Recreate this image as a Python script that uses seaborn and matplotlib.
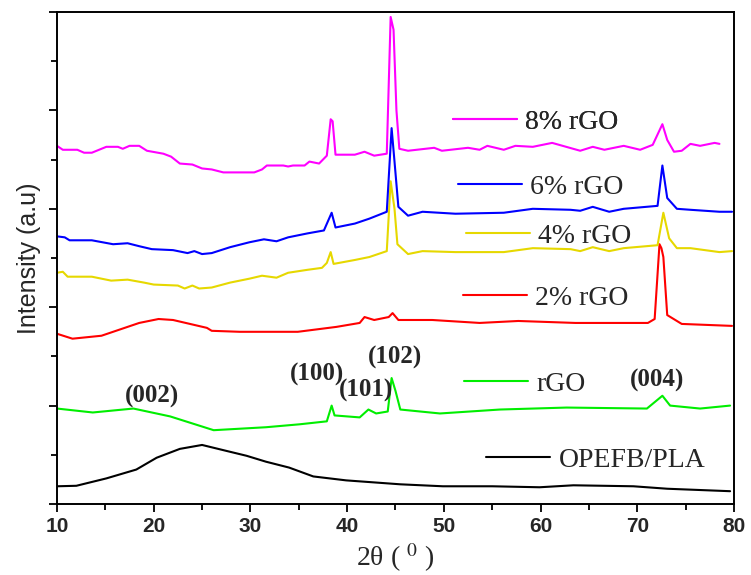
import numpy as np
import pandas as pd
import matplotlib
matplotlib.use("Agg")
import matplotlib.pyplot as plt
import seaborn as sns

# XRD patterns, intensities (stacked, arbitrary units)
x_pla = [10, 12, 15.1, 18.2, 20.3, 22.7, 25, 27.5, 29.6, 31.6, 34, 36.5, 39.9,
         45.5, 49.9, 55, 59.9, 63.4, 69.6, 73.1, 79.6]
y_pla = [0.18, 0.185, 0.26, 0.35, 0.47, 0.56, 0.60, 0.54, 0.49, 0.43, 0.37, 0.28,
         0.24, 0.20, 0.18, 0.18, 0.17, 0.19, 0.18, 0.155, 0.13]

x_rgo = [10, 13.7, 17.9, 21.7, 26.2, 31.6, 35.1, 37.9, 38.4, 38.7, 41.3, 42.2,
         43.0, 44.2, 44.6, 45.0, 45.5, 49.6, 55.8, 62.7, 71.0, 72.6, 73.4, 76.5, 79.6]
y_rgo = [0.97, 0.93, 0.97, 0.89, 0.75, 0.78, 0.81, 0.84, 1.00, 0.90, 0.88, 0.96,
         0.92, 0.94, 1.28, 1.15, 0.96, 0.92, 0.96, 0.98, 0.97, 1.10, 1.00, 0.97, 1.00]

x_2 = [10, 11.6, 14.6, 18.5, 20.5, 22.0, 25.5, 26.0, 28.9, 34.9, 38.9, 41.3, 41.8,
       42.8, 44.3, 44.7, 45.3, 48.8, 53.7, 57.7, 63.6, 71.1, 71.8, 72.3, 72.5,
       72.7, 73.1, 74.6, 79.8]
y_2 = [1.73, 1.68, 1.71, 1.84, 1.88, 1.87, 1.79, 1.76, 1.75, 1.75, 1.80, 1.84, 1.90,
       1.87, 1.90, 1.94, 1.87, 1.87, 1.84, 1.86, 1.84, 1.84, 1.88, 2.64, 2.60,
       2.51, 1.92, 1.83, 1.81]

x_4 = [10, 10.6, 11.1, 13.6, 15.6, 17.3, 19.0, 20.0, 22.5, 23.2, 24.0, 24.7, 26.0,
       27.9, 29.9, 31.2, 32.7, 33.9, 35.9, 37.4, 37.9, 38.3, 38.6, 40.8, 42.3,
       44.1, 44.5, 44.9, 45.2, 46.3, 47.8, 51.2, 56.2, 59.2, 63.1, 64.1, 65.4,
       67.1, 68.6, 72.1, 72.7, 73.3, 74.1, 75.5, 78.5, 79.8]
y_4 = [2.35, 2.36, 2.31, 2.31, 2.27, 2.28, 2.25, 2.23, 2.22, 2.19, 2.22, 2.19, 2.20,
       2.25, 2.29, 2.32, 2.30, 2.35, 2.38, 2.40, 2.45, 2.56, 2.44, 2.48, 2.51,
       2.57, 3.28, 3.00, 2.64, 2.54, 2.57, 2.56, 2.56, 2.60, 2.59, 2.57, 2.61,
       2.57, 2.60, 2.63, 2.96, 2.70, 2.60, 2.60, 2.56, 2.57]

x_6 = [10, 10.8, 11.3, 13.6, 15.8, 17.3, 18.5, 19.8, 22.0, 23.5, 24.2, 25.0, 26.0,
       27.9, 29.9, 31.4, 32.7, 33.9, 35.9, 37.6, 38.4, 38.8, 40.8, 42.3, 44.1,
       44.6, 44.9, 45.3, 46.3, 47.8, 51.2, 56.2, 59.2, 63.1, 64.1, 65.4, 67.1,
       68.6, 72.1, 72.6, 73.1, 74.1, 75.5, 78.5, 79.8]
y_6 = [2.72, 2.71, 2.68, 2.68, 2.64, 2.65, 2.62, 2.59, 2.58, 2.55, 2.57, 2.54, 2.55,
       2.61, 2.66, 2.69, 2.67, 2.71, 2.75, 2.78, 2.96, 2.81, 2.85, 2.90, 2.97,
       3.82, 3.48, 3.02, 2.93, 2.97, 2.95, 2.96, 3.00, 2.99, 2.98, 3.02, 2.97,
       3.00, 3.03, 3.44, 3.11, 3.00, 2.99, 2.97, 2.97]

x_8 = [10, 10.6, 12.1, 12.8, 13.6, 15.1, 16.3, 16.8, 17.5, 18.5, 19.3, 21.0, 21.8,
       22.7, 24.0, 25.0, 26.0, 27.2, 30.4, 31.2, 31.7, 33.4, 33.9, 34.4, 35.6,
       36.1, 37.1, 37.9, 38.3, 38.5, 38.8, 40.8, 41.8, 42.8, 44.1, 44.5, 44.8,
       45.1, 45.4, 46.3, 49.0, 49.8, 52.5, 53.7, 54.5, 56.2, 57.4, 59.2, 61.2,
       64.1, 65.4, 66.6, 68.6, 70.3, 71.6, 72.6, 73.1, 73.8, 74.6, 75.5, 76.5,
       78.0, 78.5]
y_8 = [3.64, 3.60, 3.60, 3.57, 3.57, 3.63, 3.63, 3.61, 3.64, 3.64, 3.59, 3.56, 3.53,
       3.46, 3.45, 3.41, 3.40, 3.37, 3.37, 3.40, 3.44, 3.44, 3.43, 3.44, 3.44,
       3.48, 3.46, 3.54, 3.91, 3.89, 3.55, 3.55, 3.58, 3.54, 3.56, 4.95, 4.82,
       4.00, 3.61, 3.59, 3.62, 3.59, 3.62, 3.60, 3.64, 3.60, 3.64, 3.63, 3.67,
       3.59, 3.63, 3.60, 3.64, 3.60, 3.65, 3.86, 3.70, 3.58, 3.59, 3.66, 3.64,
       3.67, 3.66]

labels = ["OPEFB/PLA", "rGO", "2% rGO", "4% rGO", "6% rGO", "8% rGO"]
colors = ["black", "#00ee00", "red", "#e6d800", "blue", "#ff00ff"]
xs = [x_pla, x_rgo, x_2, x_4, x_6, x_8]
ys = [y_pla, y_rgo, y_2, y_4, y_6, y_8]

# inline legend anchors (axes fraction)
leg_pos = [(0.634, 0.089), (0.601, 0.244), (0.600, 0.419),
           (0.604, 0.545), (0.592, 0.644), (0.585, 0.776)]

# peak indices
hkl = ["(002)", "(100)", "(101)", "(102)", "(004)"]
hkl_x = [19.8, 36.9, 42.0, 44.9, 72.0]
hkl_y = [1.09, 1.32, 1.15, 1.49, 1.26]

sns.set_style("ticks")
plt.rcParams['font.family'] = ['Liberation Serif', 'DejaVu Serif']
plt.rcParams['mathtext.fontset'] = 'stix'

fig = plt.figure(figsize=(7.51, 5.75), dpi=100)
ax = fig.add_axes([0.0759, 0.1235, 0.9014, 0.8556])

lines = []
for x, y, lab, c in zip(xs, ys, labels, colors):
    df = pd.DataFrame({"x": x, "y": y})
    sns.lineplot(data=df, x="x", y="y", color=c, lw=1.5, ax=ax,
                 estimator=None, sort=False)
    lines.append(ax.lines[-1])

for ln, lab, pos in zip(lines, labels, leg_pos):
    leg = ax.legend([ln], [lab], loc="center left", bbox_to_anchor=pos,
                    frameon=False, fontsize=20, handlelength=2.3,
                    handletextpad=0.3, borderpad=0, borderaxespad=0)
    ax.add_artist(leg)

for t, hx, hy in zip(hkl, hkl_x, hkl_y):
    ax.text(hx, hy, t, ha="center", va="center", fontsize=18, fontweight="bold")

ax.set_xlim(10, 80)
ax.set_ylim(0, 5)
ax.set_xticks(np.arange(10, 81, 10))
ax.set_xticks(np.arange(15, 80, 10), minor=True)
ax.set_yticks(np.arange(0, 5.1, 1))
ax.set_yticks(np.arange(0.5, 5, 1), minor=True)
ax.set_yticklabels([])
for lbl in ax.get_xticklabels():
    lbl.set_fontfamily("Liberation Sans")
    lbl.set_fontweight("bold")
    lbl.set_fontsize(15)
ax.tick_params(axis="both", which="major", direction="out", length=6, width=1.3, color="black")
ax.tick_params(axis="both", which="minor", direction="out", length=4, width=1.3, color="black")
for s in ax.spines.values():
    s.set_visible(True)
    s.set_linewidth(1.4)
    s.set_color("black")

ax.set_xlabel(r"2θ ( $^{0}$ )", fontsize=20, labelpad=4)
ax.set_ylabel("Intensity (a.u)", fontsize=18, family="Liberation Sans", labelpad=2)

fig.savefig("out.png", dpi=100)
